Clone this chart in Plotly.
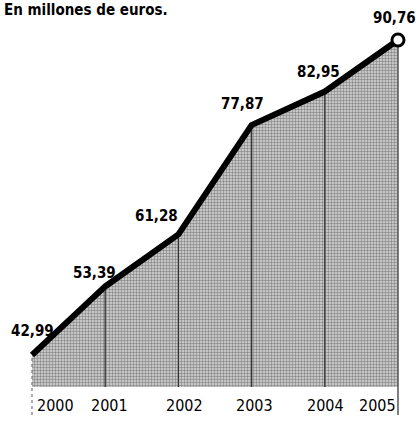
import plotly.graph_objects as go

years = [2000, 2001, 2002, 2003, 2004, 2005]
values = [42.99, 53.39, 61.28, 77.87, 82.95, 90.76]
value_labels = ["42,99", "53,39", "61,28", "77,87", "82,95", "90,76"]
year_labels = ["2000", "2001", "2002", "2003", "2004", "2005"]
title_text = "En millones de euros."

base = 38.14
tick_bottom = 33.9
label_y = 35.4

# label placement (pixel offsets from the point: styling only)
lab_dx = [1, -11, -22, -9, -6, -3]
lab_dy = [24, 13, 18, 21, 20, 22]
year_dx = [24, 4, 6, 3, 1, -20]

FONT = "DejaVu Sans Condensed, DejaVu Sans, sans-serif"

fig = go.Figure()

# baseline
fig.add_trace(go.Scatter(x=years, y=[base] * len(years), mode="lines",
                         line=dict(width=0, color="rgba(0,0,0,0)"),
                         hoverinfo="skip", showlegend=False))
# filled area
fig.add_trace(go.Scatter(x=years, y=values, mode="lines", fill="tonexty",
                         line=dict(width=0, color="rgba(0,0,0,0)"),
                         fillcolor="#b8b8b8",
                         fillpattern=dict(shape=".", bgcolor="#d8d8d8", fgcolor="#3a3a3a",
                                          size=3, solidity=0.5),
                         hoverinfo="skip", showlegend=False))

# vertical lines
for i, (yr, v) in enumerate(zip(years, values)):
    if i == 0:
        fig.add_trace(go.Scatter(x=[yr, yr], y=[tick_bottom, v], mode="lines",
                                 line=dict(color="#777777", width=1.2, dash="dot"),
                                 hoverinfo="skip", showlegend=False))
    elif i == len(years) - 1:
        fig.add_trace(go.Scatter(x=[yr, yr], y=[tick_bottom, v], mode="lines",
                                 line=dict(color="#555555", width=1.5),
                                 hoverinfo="skip", showlegend=False))
    else:
        fig.add_trace(go.Scatter(x=[yr, yr], y=[base, v], mode="lines",
                                 line=dict(color="#333333", width=1.3),
                                 hoverinfo="skip", showlegend=False))

# main line
fig.add_trace(go.Scatter(x=years, y=values, mode="lines",
                         line=dict(color="black", width=6),
                         hoverinfo="skip", showlegend=False))
# end marker
fig.add_trace(go.Scatter(x=[years[-1]], y=[values[-1]], mode="markers",
                         marker=dict(size=12, color="white", line=dict(color="black", width=3)),
                         hoverinfo="skip", showlegend=False))

# value labels
for yr, v, t, dx, dy in zip(years, values, value_labels, lab_dx, lab_dy):
    fig.add_annotation(x=yr, y=v, text=t, showarrow=False,
                       xanchor="center", yanchor="middle",
                       xshift=dx, yshift=dy,
                       font=dict(family=FONT, size=15, color="black", weight="bold"))

# year labels
for yr, t, dx in zip(years, year_labels, year_dx):
    fig.add_annotation(x=yr, y=label_y, text=t, showarrow=False, xanchor="center", xshift=dx,
                       yanchor="middle", font=dict(family=FONT, size=16, color="black"))

fig.add_annotation(x=0, y=1, xref="paper", yref="paper", text="<b>" + title_text + "</b>",
                   showarrow=False, xanchor="left", yanchor="top", xshift=2, yshift=1,
                   font=dict(family=FONT, size=15, color="black"))

fig.update_layout(width=419, height=422, margin=dict(l=0, r=0, t=0, b=0),
                  paper_bgcolor="white", plot_bgcolor="white",
                  xaxis=dict(range=[1999.563, 2005.287], visible=False, fixedrange=True),
                  yaxis=dict(range=[32.83, 96.83], visible=False, fixedrange=True))

fig.write_html("out.html", config={"displayModeBar": False, "staticPlot": True},
               post_script="document.body.style.margin='0';")
